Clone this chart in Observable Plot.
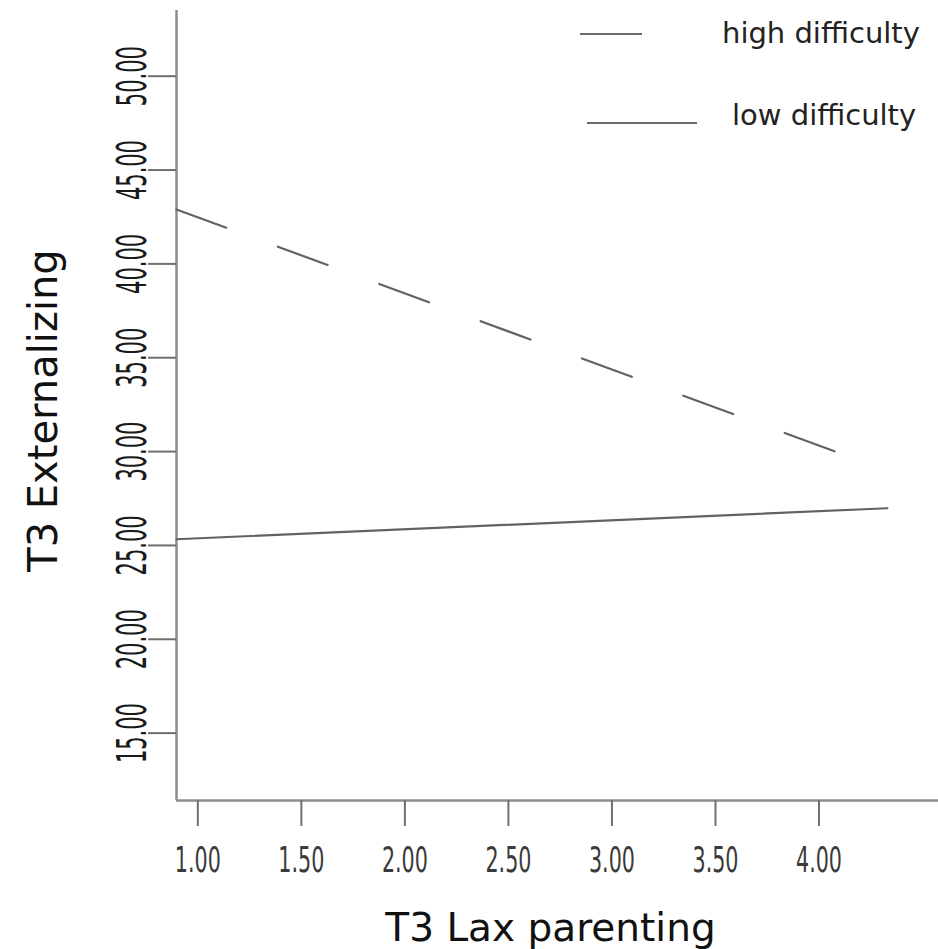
<!DOCTYPE html>
<html><head><meta charset="utf-8">
<script src="https://cdn.jsdelivr.net/npm/d3@7"></script>
<script src="https://cdn.jsdelivr.net/npm/@observablehq/plot@0.6"></script>
<style>
html,body{margin:0;padding:0;background:#fff;}
#wrap{position:relative;width:938px;height:949px;overflow:hidden;background:#fff;}
.legtxt{position:absolute;font-family:"DejaVu Sans",sans-serif;font-size:29px;color:#222;white-space:nowrap;line-height:normal;}
.legline{position:absolute;height:0;border-top:2px solid #6a6a6a;}
</style></head><body><div id="wrap"></div>
<script>
// Series
const seriesNames = ["high difficulty", "low difficulty"];
const highX = [0.897, 4.128];
const highY = [42.9, 29.8];
const lowX = [0.897, 4.33];
const lowY = [25.33, 26.98];
// Axis ticks
const xTicks = [1.00, 1.50, 2.00, 2.50, 3.00, 3.50, 4.00];
const yTicks = [15, 20, 25, 30, 35, 40, 45, 50];
const xDomain = [0.897, 4.577];
const yDomain = [11.41, 53.5];
const xTitle = "T3 Lax parenting";
const yTitle = "T3 Externalizing";

const highData = highX.map((x, i) => ({x, y: highY[i], s: seriesNames[0]}));
const lowData = lowX.map((x, i) => ({x, y: lowY[i], s: seriesNames[1]}));

const tickFont = '"Liberation Sans Narrow","DejaVu Sans Condensed","Liberation Sans",sans-serif';
const titleFont = '"DejaVu Sans",sans-serif';

const svg = Plot.plot({
  width: 938,
  height: 949,
  marginLeft: 176,
  marginRight: 0,
  marginTop: 10,
  marginBottom: 149,
  style: {background: "#fff", overflow: "visible"},
  x: {domain: xDomain},
  y: {domain: yDomain},
  marks: [
    Plot.ruleX([xDomain[0]], {stroke: "#8c8c8c", strokeWidth: 2.5}),
    Plot.ruleY([yDomain[0]], {stroke: "#8c8c8c", strokeWidth: 2.5}),
    Plot.axisY(yTicks, {
      tickSize: 28, tickPadding: 3, tickRotate: -90,
      tickFormat: d => d.toFixed(2), label: null,
      fontSize: 40, fontFamily: tickFont, fill: "#1a1a1a",
      stroke: "#6f6f6f", strokeWidth: 2
    }),
    Plot.axisX(xTicks, {
      tickSize: 26, tickPadding: 21,
      tickFormat: d => d.toFixed(2), label: null,
      fontSize: 35, fontFamily: tickFont, fill: "#3a3a3a",
      stroke: "#6f6f6f", strokeWidth: 2
    }),
    Plot.line(highData, {x: "x", y: "y", stroke: "#626262", strokeWidth: 2.2, strokeDasharray: "53,55"}),
    Plot.line(lowData, {x: "x", y: "y", stroke: "#626262", strokeWidth: 2.2}),
    Plot.text([xTitle], {text: d => d, frameAnchor: "bottom", textAnchor: "middle", dx: -7, dy: 140, lineAnchor: "bottom",
      fontSize: 39, fontFamily: titleFont, fill: "#111"}),
    Plot.text([yTitle], {text: d => d, frameAnchor: "left", textAnchor: "middle", rotate: -90, dx: -120, dy: 5, lineAnchor: "bottom",
      fontSize: 40, fontFamily: titleFont, fill: "#111"})
  ]
});

d3.select(svg).selectAll('g[aria-label="y-axis tick label"] text')
  .attr("textLength", 60).attr("lengthAdjust", "spacingAndGlyphs");
d3.select(svg).selectAll('g[aria-label="x-axis tick label"] text')
  .attr("textLength", 46).attr("lengthAdjust", "spacingAndGlyphs");

const wrap = document.getElementById("wrap");
wrap.appendChild(svg);

// Legend (top right, overlaid)
const legend = [
  {name: seriesNames[0], lineLeft: 580, lineTop: 33, lineW: 62, txtLeft: 722, txtTop: 16},
  {name: seriesNames[1], lineLeft: 587, lineTop: 122, lineW: 110, txtLeft: 732, txtTop: 98}
];
for (const l of legend) {
  const ln = document.createElement("div");
  ln.className = "legline";
  ln.style.left = l.lineLeft + "px"; ln.style.top = l.lineTop + "px"; ln.style.width = l.lineW + "px";
  wrap.appendChild(ln);
  const t = document.createElement("div");
  t.className = "legtxt";
  t.style.left = l.txtLeft + "px"; t.style.top = l.txtTop + "px";
  t.textContent = l.name;
  wrap.appendChild(t);
}
</script>
</body></html>
